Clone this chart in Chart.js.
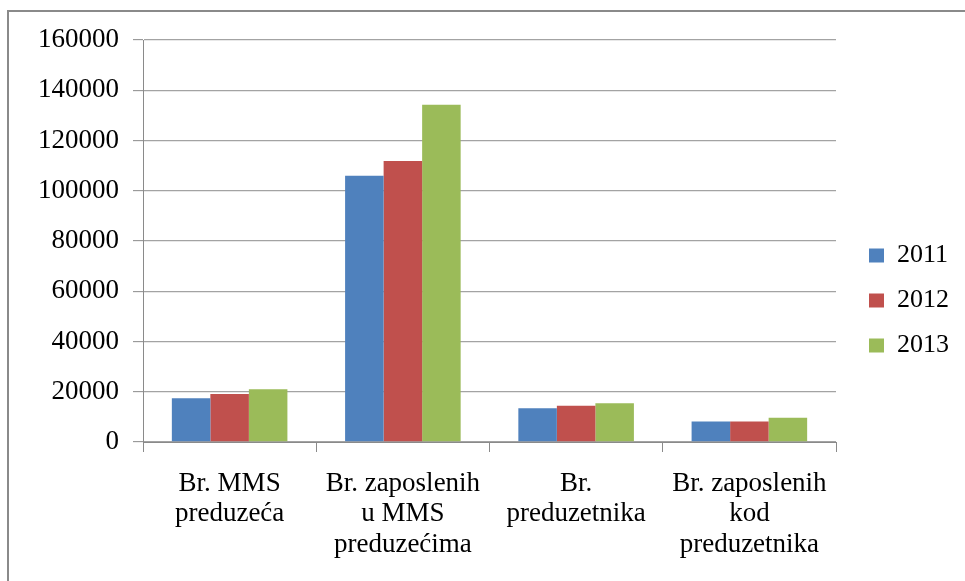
<!DOCTYPE html>
<html>
<head>
<meta charset="utf-8">
<script src="https://cdn.jsdelivr.net/npm/chart.js@4/dist/chart.umd.min.js"></script>
<style>
  html, body { margin: 0; padding: 0; background: #ffffff; }
  #wrap { position: relative; width: 965px; height: 581px; overflow: hidden; background: #ffffff; }
  #frame { position: absolute; left: 7px; top: 10px; width: 1000px; height: 700px;
           border-top: 2px solid #8a8a8a; border-left: 2px solid #8a8a8a; box-sizing: border-box; }
  canvas { position: absolute; left: 0; top: 0; }
</style>
</head>
<body>
<div id="wrap">
  <div id="frame"></div>
  <canvas id="c" width="965" height="581"></canvas>
</div>
<script>
const categories = [
  ["Br. MMS", "preduzeća"],
  ["Br. zaposlenih", "u MMS", "preduzećima"],
  ["Br.", "preduzetnika"],
  ["Br. zaposlenih", "kod", "preduzetnika"]
];
const seriesNames = ["2011", "2012", "2013"];
const values2011 = [17400, 106000, 13400, 8200];
const values2012 = [19100, 111800, 14450, 8200];
const values2013 = [21000, 134250, 15400, 9700];
const seriesColors = ["#4F81BD", "#C0504D", "#9BBB59"];
const yMin = 0, yMax = 160000, yStep = 20000;

const fontFamily = "'Liberation Serif', 'Times New Roman', serif";
const seriesValues = [values2011, values2012, values2013];

new Chart(document.getElementById('c'), {
  type: 'bar',
  data: {
    labels: categories,
    datasets: seriesNames.map((n, i) => ({
      label: n,
      data: seriesValues[i],
      backgroundColor: seriesColors[i],
      borderWidth: 0,
      categoryPercentage: 0.667,
      barPercentage: 1.0
    }))
  },
  options: {
    responsive: false,
    devicePixelRatio: 1,
    animation: false,
    layout: { padding: { top: 40, left: 0, right: 6, bottom: 20 } },
    plugins: {
      tooltip: { enabled: false },
      legend: {
        position: 'right',
        align: 'center',
        labels: {
          boxWidth: 15,
          boxHeight: 14,
          padding: 19,
          color: '#000',
          font: { family: fontFamily, size: 26 }
        }
      }
    },
    scales: {
      x: {
        grid: { display: true, drawOnChartArea: false, drawTicks: true, tickLength: 10, color: '#8a8a8a', offset: true },
        border: { display: true, color: '#8a8a8a', width: 1 },
        ticks: { color: '#000', padding: 17, maxRotation: 0, autoSkip: false,
                 font: { family: fontFamily, size: 27, lineHeight: 1.12 } },
        afterFit: (s) => { s.height = 119; }
      },
      y: {
        min: yMin, max: yMax,
        grid: { color: '#a3a3a3', lineWidth: 1.3, drawTicks: true, tickLength: 10, tickColor: '#8a8a8a', tickWidth: 1 },
        border: { display: true, color: '#8a8a8a', width: 1 },
        ticks: { stepSize: yStep, color: '#000', padding: 14,
                 callback: (v) => String(v),
                 font: { family: fontFamily, size: 27 } },
        afterFit: (s) => { s.width = 143; }
      },
      gap: {
        type: 'linear',
        position: 'right',
        display: true,
        grid: { display: false, drawTicks: false },
        border: { display: false },
        ticks: { display: false },
        afterFit: (s) => { s.width = 14; }
      }
    }
  }
});
</script>
</body>
</html>
